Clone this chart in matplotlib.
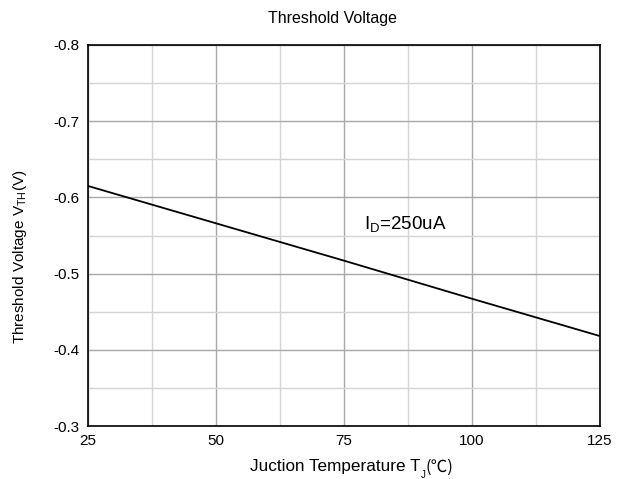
import matplotlib
matplotlib.use("Agg")
import matplotlib.pyplot as plt
from matplotlib.ticker import MultipleLocator

plt.rcParams['font.family'] = ['Liberation Sans', 'DejaVu Sans']

temps = [25, 50, 75, 100, 125]
vth = [-0.615, -0.566, -0.517, -0.467, -0.418]
xticks = [25, 50, 75, 100, 125]
yticks = [-0.8, -0.7, -0.6, -0.5, -0.4, -0.3]

W, H = 632, 479
fig = plt.figure(figsize=(W / 100, H / 100), dpi=100)
ax = fig.add_axes([88/W, 1-426/H, 512/W, 381/H])

ax.plot(temps, vth, color='black', lw=1.3, zorder=3)
ax.set_xlim(25, 125)
ax.set_ylim(-0.3, -0.8)
ax.set_xticks(xticks)
ax.set_yticks(yticks)
ax.set_yticklabels([f"{v:.1f}" for v in yticks])
ax.xaxis.set_minor_locator(MultipleLocator(12.5))
ax.yaxis.set_minor_locator(MultipleLocator(0.05))
ax.grid(which='major', color='#a8a8a8', lw=1.0)
ax.grid(which='minor', color='#d4d4d4', lw=1.0)
ax.tick_params(which='both', length=0, labelsize=11, pad=6)
for s in ax.spines.values():
    s.set_linewidth(1.2)
    s.set_color('black')

fig.text(332/W, 1 - 19/H, "Threshold Voltage", fontsize=11.5, ha='center', va='center')
fig.text(20/W, 1 - 257/H, "Threshold Voltage V$_{\\mathregular{TH}}$(V)", fontsize=11,
         rotation=90, ha='center', va='center')

# x label built from pieces (subscript J and the ℃ sign from a CJK font)
y_lab = 1 - 467/H
t1 = fig.text(0.3, y_lab, "Juction Temperature T", fontsize=12.3, va='center', ha='left')
t2 = ax.annotate("J", xy=(1, 0), xycoords=t1, va='center', ha='left', fontsize=7,
                 annotation_clip=False)
t3 = ax.annotate("(℃)", xy=(1, 0.5), xycoords=(t2, t1), va='center', ha='left',
                 fontsize=12, family=['Noto Sans CJK SC', 'DejaVu Sans'],
                 annotation_clip=False)
fig.canvas.draw()
r = fig.canvas.get_renderer()
b1 = t1.get_window_extent(r)
b3 = t3.get_window_extent(r)
total = b3.x1 - b1.x0
x0 = (352 - total / 2) / fig.bbox.width
t1.set_x(x0)

ax.text(79.0, -0.564, "I$_{\\mathregular{D}}$=250uA", fontsize=13.5, va='center', ha='left')

fig.savefig("out.png", dpi=100)
